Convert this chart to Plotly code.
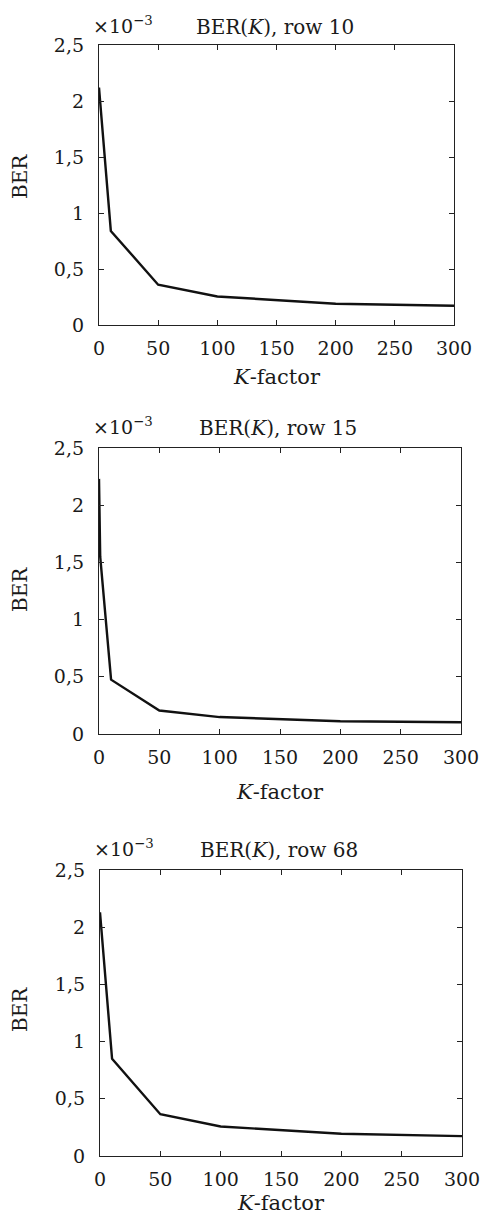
import plotly.graph_objects as go

W, H = 485, 1218

k_factor = [0, 1, 10, 50, 100, 200, 300]
ber_row10 = [2.12, 1.99, 0.84, 0.36, 0.255, 0.19, 0.172]
ber_row15 = [2.23, 1.55, 0.475, 0.205, 0.148, 0.112, 0.103]
ber_row68 = [2.13, 2.00, 0.85, 0.365, 0.258, 0.195, 0.174]
titles = ["BER(<i>K</i>), row 10", "BER(<i>K</i>), row 15", "BER(<i>K</i>), row 68"]
series = [ber_row10, ber_row15, ber_row68]

x_ticks = [0, 50, 100, 150, 200, 250, 300]
y_ticks = [0, 0.5, 1, 1.5, 2, 2.5]
y_ticktext = ["0", "0,5", "1", "1,5", "2", "2,5"]

# pixel boxes: (left, right, top, bottom)
boxes = [(99, 454, 45, 325), (99, 461, 448, 734), (100, 462, 870, 1156)]
xtitle_off = [52, 58, 47]
ylabel_off = [-8, -1, -3]
title_off = [18, 20, 20]

FONT = "DejaVu Serif"
TXT = "#1a1a1a"
fig = go.Figure()
annotations = []

def px(x):
    return x / W

def py(y):
    return 1 - y / H

for i, (ys, title, (l, r, t, b)) in enumerate(zip(series, titles, boxes)):
    n = "" if i == 0 else str(i + 1)
    fig.add_trace(go.Scatter(x=k_factor, y=ys, mode="lines",
                             line=dict(color="#111111", width=2.4),
                             xaxis="x" + n, yaxis="y" + n, showlegend=False))
    axis_common = dict(showline=True, linecolor="#222", linewidth=1.3, mirror="ticks",
                       ticks="inside", ticklen=5, tickwidth=1, tickcolor="#222",
                       showgrid=False, zeroline=False, automargin=False,
                       tickfont=dict(family=FONT, size=19, color=TXT))
    fig.update_layout(**{
        "xaxis" + n: dict(domain=[px(l), px(r)], anchor="y" + n, range=[0, 300],
                          tickvals=x_ticks, ticklabelstandoff=6, **axis_common),
        "yaxis" + n: dict(domain=[py(b), py(t)], anchor="x" + n, range=[0, 2.5],
                          tickvals=y_ticks, ticktext=y_ticktext, ticklabelstandoff=10,
                          **axis_common),
    })
    cx = (l + r) / 2
    annotations.append(dict(x=px(cx - 2), y=py(t - title_off[i]), xref="paper", yref="paper",
                            text=title, showarrow=False, xanchor="center", yanchor="middle",
                            font=dict(family=FONT, size=20, color=TXT)))
    annotations.append(dict(x=px(l - 8), y=py(t - title_off[i] - 2), xref="paper", yref="paper",
                            text="×10<sup>−3</sup>", showarrow=False, xanchor="left",
                            yanchor="middle", font=dict(family=FONT, size=19, color=TXT)))
    annotations.append(dict(x=px(cx), y=py(b + xtitle_off[i]), xref="paper", yref="paper",
                            text="<i>K</i>-factor", showarrow=False, xanchor="center",
                            yanchor="middle", font=dict(family=FONT, size=21, color=TXT)))
    annotations.append(dict(x=px(20), y=py((t + b) / 2 + ylabel_off[i]), xref="paper", yref="paper",
                            text="BER", showarrow=False, textangle=-90, xanchor="center",
                            yanchor="middle", font=dict(family=FONT, size=20, color=TXT)))

fig.update_layout(width=W, height=H, margin=dict(l=0, r=0, t=0, b=0, autoexpand=False),
                  paper_bgcolor="white", plot_bgcolor="white",
                  annotations=annotations)
fig.write_html("out.html")
